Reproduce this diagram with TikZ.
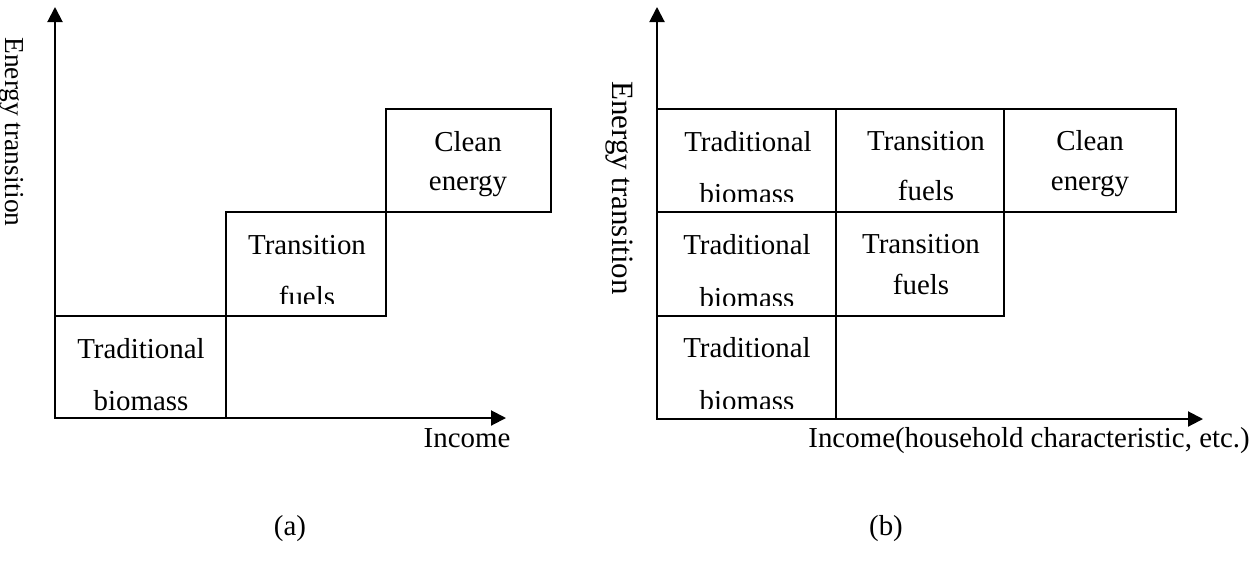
\documentclass[tikz,border=0pt]{standalone}
\usepackage{fontspec}
\setmainfont{Liberation Serif}
\usepackage{tikz}
\usetikzlibrary{arrows.meta,positioning}

\tikzset{
  axis/.style={line width=1pt, -{Triangle[width=7.5pt,length=7.5pt]}},
  cell/.style={draw, line width=1pt},
  lbl/.style={font=\fontsize{14.45}{17}\selectfont, inner sep=0pt, anchor=base},
}

\begin{document}
\begin{tikzpicture}[x=0.5pt, y=-0.5pt]
    \useasboundingbox (0,0) rectangle (1256,563);
    % (a) -- one fuel per income level
    \draw[cell] (55,316) rectangle (226,418);
    \draw[cell] (226,212) rectangle (386,316);
    \draw[cell] (386,109) rectangle (551,212);
    \draw[axis] (55,418) -- (55,7);
    \draw[axis] (55,418) -- (506,418);
    \node[lbl] (tradA) at (141,358) {Traditional};
    \node[lbl] (bioA) at (141,410) {biomass};
    \node[lbl] (transA) at (307,254) {Transition};
    \begin{scope}
      \clip (226,212) rectangle (386,303);
      \node[lbl] (fuelA) at (307,306) {fuels};
    \end{scope}
    \node[lbl] (cleanA) at (468,151) {Clean};
    \node[lbl] (energyA) at (468,190) {energy};
    \node[lbl, font=\fontsize{13.7}{16}\selectfont, rotate=-90] (ylabA) at (5,132) {Energy transition};
    \node[lbl] (xlabA) at (467,447) {Income};
    \node[lbl] (capA) at (290,535) {(a)};
    % (b) -- fuels stack up instead of replacing each other
    \draw[cell] (657,109) rectangle (836,212);
    \draw[cell] (836,109) rectangle (1004,212);
    \draw[cell] (1004,109) rectangle (1176,212);
    \draw[cell] (657,212) rectangle (836,316);
    \draw[cell] (836,212) rectangle (1004,316);
    \draw[cell] (657,316) rectangle (836,419);
    \draw[axis] (657,419) -- (657,7);
    \draw[axis] (657,419) -- (1203,419);
    \node[lbl] (tradB1) at (748,151) {Traditional};
    \node[lbl] (tradB2) at (747,254) {Traditional};
    \node[lbl] (tradB3) at (747,357) {Traditional};
    \begin{scope}
      \clip (657,109) rectangle (836,201);
      \node[lbl] (bioB1) at (747,203) {biomass};
    \end{scope}
    \begin{scope}
      \clip (657,212) rectangle (836,305);
      \node[lbl] (bioB2) at (747,307) {biomass};
    \end{scope}
    \begin{scope}
      \clip (657,316) rectangle (836,408);
      \node[lbl] (bioB3) at (747,410) {biomass};
    \end{scope}
    \node[lbl] (transB1) at (926,150) {Transition};
    \node[lbl] (fuelB1) at (926,200) {fuels};
    \node[lbl] (transB2) at (921,253) {Transition};
    \node[lbl] (fuelB2) at (921,294) {fuels};
    \node[lbl] (cleanB) at (1090,150) {Clean};
    \node[lbl] (energyB) at (1090,190) {energy};
    \node[lbl, font=\fontsize{15.5}{18}\selectfont, rotate=-90] (ylabB) at (612,188) {Energy transition};
    \node[lbl, anchor=base west] (xlabB) at (808,447) {Income(household characteristic, etc.)};
    \node[lbl] (capB) at (886,535) {(b)};
\end{tikzpicture}
\end{document}
